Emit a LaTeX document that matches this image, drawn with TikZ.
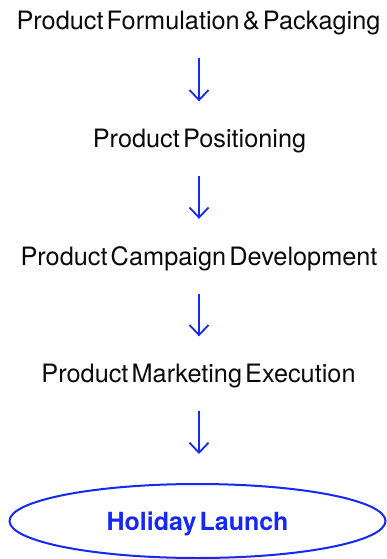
\documentclass[tikz,border=0pt]{standalone}
\usepackage{fontspec}
\setmainfont[WordSpace=0.45]{TeX Gyre Heros}
\usetikzlibrary{arrows.meta,shapes.geometric}
\definecolor{flowblue}{RGB}{22,40,245}
\definecolor{steptext}{RGB}{10,10,10}
\begin{document}
\begin{tikzpicture}[x=1pt,y=1pt,
  stepbox/.style={inner sep=0pt, text height=18pt, text depth=6pt,
    font=\fontsize{25.3}{28}\selectfont, text=steptext},
  flow/.style={draw=flowblue, line width=1.8pt,
    -{Straight Barb[length=10pt,width=19pt]}},
  goal/.style={ellipse, draw=flowblue, line width=2pt, inner sep=0pt,
    minimum width=376pt, minimum height=74pt, text height=18pt, text depth=0pt,
    font=\bfseries\fontsize{25}{28}\selectfont, text=flowblue}]
\useasboundingbox (0,0) rectangle (386,-559);
% steps, placed by their baselines
\node[stepbox, anchor=base] (form) at (198.5,-29.5) {Product Formulation \& Packaging};
\node[stepbox, anchor=base] (pos)  at (199.5,-147.5) {Product Positioning};
\node[stepbox, anchor=base] (camp) at (199,-265) {Product Campaign Development};
\node[stepbox, anchor=base] (exec) at (198.5,-382.5) {Product Marketing Execution};
\node[goal] (launch) at (197.5,-521) {Holiday Launch};
% connectors
\draw[flow, shorten <=22.5pt, shorten >=28pt] (form.south -| 199,0) -- (pos.north -| 199,0);
\draw[flow, shorten <=22.5pt, shorten >=28pt] (pos.south -| 199,0) -- (camp.north -| 199,0);
\draw[flow, shorten <=22.5pt, shorten >=28pt] (camp.south -| 199,0) -- (exec.north -| 199,0);
\draw[flow, shorten <=22.5pt, shorten >=29pt] (exec.south -| 199,0) -- (launch.north -| 199,0);
\end{tikzpicture}
\end{document}
